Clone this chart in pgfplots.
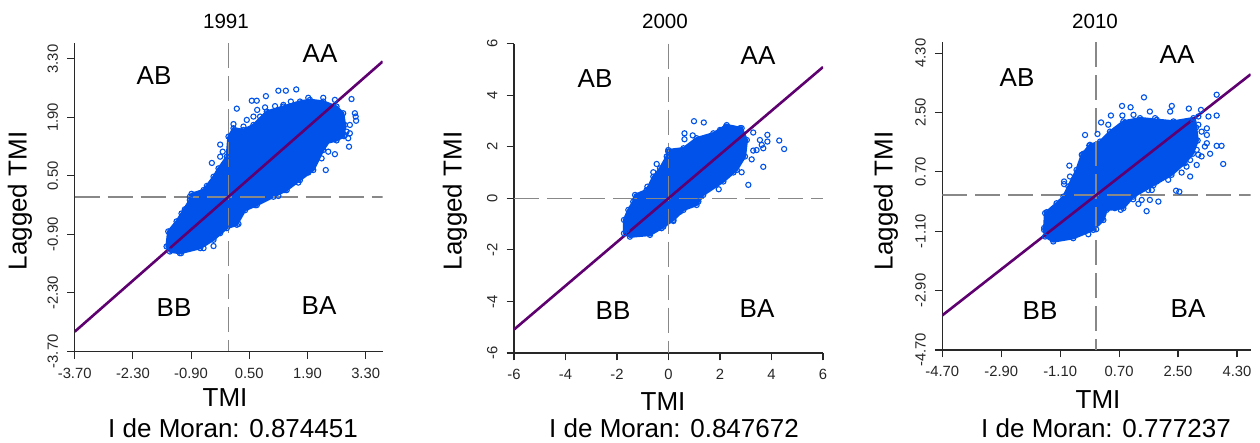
\documentclass[border=0pt]{standalone}
\usepackage{pgfplots}
\usepackage{fontspec}
\setmainfont{Liberation Sans}
\pgfplotsset{compat=1.18}
\definecolor{cloud}{RGB}{0,82,235}
\definecolor{reg}{RGB}{94,0,112}
\definecolor{guide}{RGB}{136,136,136}
\definecolor{axl}{RGB}{40,40,40}
\pgfplotsset{
  moran/.style={
    scale only axis,
    axis lines=left,
    axis line style={-,draw=axl,line width=0.6pt},
    clip=true,
    tick align=outside,
    major tick length=3.7pt,
    every tick/.style={draw=axl,line width=0.55pt},
    xtick pos=bottom, ytick pos=left,
    tick label style={font=\fontsize{7.4}{8}\selectfont,text=black!85},
    xticklabel style={yshift=-3.4pt,inner sep=1pt},
    yticklabel style={rotate=90,anchor=south,inner sep=1pt,yshift=3.4pt},
  },
  cl/.style={draw=cloud,line width=1.2pt,fill=cloud,forget plot},
  pts/.style={only marks,mark=o,mark size=1.3pt,mark options={draw=cloud,line width=0.55pt,fill=none},forget plot},
  gd/.style={draw=guide,line width=0.75pt,dash pattern=on 12.5pt off 4pt,forget plot},
  rg/.style={draw=reg,line width=1.3pt,forget plot},
}
\begin{document}
\begin{tikzpicture}
\path (0,0) rectangle (630pt,221.5pt);

% ---------- 1991
\begin{axis}[moran,at={(37.35pt,45.85pt)},anchor=south west,width=154pt,height=154pt,
  xmin=-3.7,xmax=3.71,ymin=-3.7,ymax=3.675,
  xtick={-3.7,-2.3,-0.9,0.5,1.9,3.3},ytick={-3.7,-2.3,-0.9,0.5,1.9,3.3},
  xticklabels={-3.70,-2.30,-0.90,0.50,1.90,3.30},yticklabels={-3.70,-2.30,-0.90,0.50,1.90,3.30}]
\addplot[cl] coordinates {(-1.49,-1.19)(-1.45,-0.83)(-1.25,-0.59)(-1.13,-0.40)(-0.93,-0.08)(-0.89,0.07)(-0.60,0.16)(-0.36,0.48)(-0.24,0.68)(-0.04,0.96)(0.00,1.44)(0.12,1.64)(0.36,1.60)(0.60,1.72)(0.92,2.04)(1.32,2.16)(1.72,2.28)(1.96,2.32)(2.28,2.28)(2.60,2.16)(2.76,2.00)(2.80,1.72)(2.78,1.45)(2.60,1.35)(2.40,1.30)(2.28,1.12)(2.04,0.64)(1.72,0.40)(1.40,0.16)(1.08,0.00)(0.68,-0.20)(0.40,-0.32)(0.20,-0.67)(-0.04,-0.75)(-0.36,-1.03)(-0.68,-1.23)(-1.17,-1.35)(-1.41,-1.31)} -- cycle;
\addplot[pts] coordinates {(-1.49,-1.19)(-1.45,-0.83)(-1.25,-0.59)(-1.13,-0.40)(-0.93,-0.08)(-0.89,0.07)(-0.60,0.16)(-0.36,0.48)(-0.24,0.68)(-0.04,0.96)(0.00,1.44)(0.12,1.64)(0.36,1.60)(0.60,1.72)(0.92,2.04)(1.32,2.16)(1.72,2.28)(1.96,2.32)(2.28,2.28)(2.60,2.16)(2.76,2.00)(2.80,1.72)(2.78,1.45)(2.60,1.35)(2.28,1.12)(2.04,0.64)(1.72,0.40)(1.40,0.16)(1.08,0.00)(0.68,-0.20)(0.40,-0.32)(0.20,-0.67)(-0.04,-0.75)(-0.36,-1.03)(-0.68,-1.23)(-1.17,-1.35)(-1.41,-1.31)
(-0.40,0.81)(-0.20,1.25)(-0.14,1.08)(-0.20,0.96)(0.20,2.11)(0.56,2.30)(0.68,2.30)(0.90,2.41)(1.20,2.54)(1.38,2.54)(1.63,2.57)(0.69,2.08)(0.88,2.14)(1.12,2.17)(1.32,2.20)(1.50,2.28)(1.92,2.37)(2.28,2.37)(2.56,2.32)(2.96,2.34)(3.04,2.00)(3.06,1.92)(3.07,1.82)(2.90,1.20)(2.88,1.40)(2.56,1.02)(2.34,0.64)(2.40,1.08)(2.24,0.92)(1.92,0.58)(1.68,0.34)(1.36,0.16)(1.20,0.02)(0.64,-0.20)(0.24,-0.65)(-0.36,-1.18)(-0.60,-1.23)(-0.20,-0.87)(-1.14,-1.35)(-1.05,-0.30)(-0.93,0.00)(-0.52,0.26)(0.36,1.68)(0.12,1.74)(0.44,1.84)(0.60,1.92)(0.76,1.92)(2.92,1.72)(2.84,1.56)(2.72,1.60)(2.80,1.48)(2.68,1.52)(2.92,1.52)};
\addplot[gd] coordinates {(0,3.675)(0,-3.7)};
\addplot[gd] coordinates {(-3.7,0)(3.71,0)};
\addplot[rg] coordinates {(-3.7,-3.23)(3.71,3.24)};
\end{axis}

% ---------- 2000
\begin{axis}[moran,at={(257pt,45pt)},anchor=south west,width=154.5pt,height=154.7pt,
  xmin=-6,xmax=6,ymin=-6,ymax=6,
  xtick={-6,-4,-2,0,2,4,6},ytick={-6,-4,-2,0,2,4,6},
  xticklabels={-6,-4,-2,0,2,4,6},yticklabels={-6,-4,-2,0,2,4,6}]
\addplot[cl] coordinates {(-1.73,-1.36)(-1.73,-0.84)(-1.56,-0.45)(-1.37,-0.13)(-1.30,0.13)(-0.85,0.32)(-0.59,0.84)(-0.33,1.16)(-0.07,1.62)(-0.01,1.87)(0.58,1.94)(1.09,2.33)(1.74,2.52)(2.26,2.84)(2.84,2.72)(3.04,2.26)(2.97,1.62)(2.65,1.10)(2.13,0.65)(1.35,0.13)(1.09,-0.26)(0.58,-0.45)(0.19,-0.84)(-0.27,-1.16)(-0.72,-1.42)(-1.50,-1.49)} -- cycle;
\addplot[pts] coordinates {(-1.73,-1.36)(-1.73,-0.84)(-1.56,-0.45)(-1.37,-0.13)(-1.30,0.13)(-0.85,0.32)(-0.59,0.84)(-0.33,1.16)(-0.07,1.62)(-0.01,1.87)(0.58,1.94)(1.09,2.33)(1.74,2.52)(2.26,2.84)(2.84,2.72)(3.04,2.26)(2.97,1.62)(2.65,1.10)(2.13,0.65)(1.35,0.13)(1.09,-0.26)(0.58,-0.45)(0.19,-0.84)(-0.27,-1.16)(-0.72,-1.42)(-1.50,-1.49)
(0.99,2.99)(1.37,2.94)(0.62,2.52)(0.62,2.29)(0.94,2.44)(2.00,2.65)(2.23,2.78)(2.78,2.72)(3.29,2.55)(3.84,2.46)(3.84,2.20)(3.55,2.26)(3.62,2.07)(3.68,1.94)(3.42,1.87)(3.29,1.85)(3.23,1.51)(3.68,1.22)(3.10,0.52)(2.84,1.01)(4.30,2.24)(4.49,1.91)(1.95,0.35)(2.52,1.00)(0.19,-0.88)(-0.46,1.33)(-0.59,1.01)(-0.27,0.97)(-0.82,0.45)(-0.01,1.81)(-1.28,-0.03)(-1.63,-1.23)(-0.72,-1.36)(1.16,-0.13)(0.45,-0.52)(-0.20,-1.10)};
\addplot[gd] coordinates {(0,6)(0,-6)};
\addplot[gd] coordinates {(-6,0)(6,0)};
\addplot[rg] coordinates {(-6,-5.09)(6,5.09)};
\end{axis}

% ---------- 2010
\begin{axis}[moran,at={(471.15pt,46.5pt)},anchor=south west,width=154.2pt,height=153.85pt,
  xmin=-4.7,xmax=4.72,ymin=-4.7,ymax=4.63,
  xtick={-4.7,-2.9,-1.1,0.7,2.5,4.3},ytick={-4.7,-2.9,-1.1,0.7,2.5,4.3},
  xticklabels={-4.70,-2.90,-1.10,0.70,2.50,4.30},yticklabels={-4.70,-2.90,-1.10,0.70,2.50,4.30}]
\addplot[cl] coordinates {(-1.59,-1.06)(-1.56,-0.55)(-1.21,-0.25)(-1.00,-0.05)(-0.85,0.26)(-0.60,0.76)(-0.44,1.22)(-0.19,1.52)(0.12,1.62)(0.42,1.92)(0.83,2.23)(1.34,2.33)(1.85,2.28)(2.36,2.23)(2.97,2.33)(3.05,2.05)(3.10,1.65)(2.95,1.25)(2.70,0.96)(2.30,0.61)(1.75,0.30)(1.14,-0.05)(0.83,-0.40)(0.32,-0.45)(0.22,-0.76)(-0.09,-1.06)(-0.70,-1.31)(-1.31,-1.41)(-1.56,-1.26)} -- cycle;
\addplot[pts] coordinates {(-1.59,-1.06)(-1.56,-0.55)(-1.21,-0.25)(-1.00,-0.05)(-0.85,0.26)(-0.60,0.76)(-0.44,1.22)(-0.19,1.52)(0.12,1.62)(0.42,1.92)(0.83,2.23)(1.34,2.33)(1.85,2.28)(2.36,2.23)(2.97,2.33)(3.05,2.05)(3.10,1.65)(2.95,1.25)(2.70,0.96)(2.30,0.61)(1.75,0.30)(1.14,-0.05)(0.83,-0.40)(0.32,-0.45)(0.22,-0.76)(-0.09,-1.06)(-0.70,-1.31)(-1.31,-1.41)(-1.56,-1.26)
(1.46,2.96)(3.68,3.04)(0.79,2.70)(1.05,2.66)(1.64,2.53)(2.31,2.70)(2.26,2.53)(2.83,2.62)(3.20,2.58)(3.68,2.41)(3.43,2.38)(3.83,1.49)(3.68,1.49)(3.88,0.94)(3.48,1.25)(3.07,0.91)(2.87,0.56)(2.44,0.13)(2.54,0.10)(1.90,-0.20)(1.54,-0.49)(1.29,-0.27)(1.64,-0.15)(0.75,-0.45)(-0.34,1.82)(0.04,1.85)(0.15,2.20)(0.37,2.13)(0.45,2.41)(0.80,2.41)(1.14,2.43)(1.80,2.33)(-0.21,1.50)(-0.82,0.89)(-0.98,0.41)(-0.98,0.33)(-0.80,0.56)(-0.39,1.25)(-1.51,-0.52)(-1.59,-1.00)(-0.24,-1.19)(0.00,-1.04)(3.38,2.02)(3.38,1.57)(3.12,1.22)
(2.97,1.87)(3.12,2.13)(3.22,1.92)(3.38,1.82)(3.32,1.47)(3.07,1.37)(3.22,1.17)(2.87,1.06)(2.76,0.86)(2.61,0.68)(2.20,0.46)(1.85,0.41)(1.44,0.20)(1.39,-0.15)(1.13,-0.13)(1.59,0.15)(1.70,0.15)(0.57,-0.40)(0.32,-0.40)(2.97,2.23)(3.12,2.38)};
\addplot[gd] coordinates {(0,4.63)(0,-4.7)};
\addplot[gd] coordinates {(-4.7,0)(4.72,0)};
\addplot[rg] coordinates {(-4.7,-3.65)(4.72,3.66)};
\end{axis}

% ---------- texts, positions in image pixels
\begin{scope}[shift={(0,221.5pt)},x=0.5pt,y=-0.5pt,inner sep=0pt]
\def\titlefont{\fontsize{10.3}{12}\selectfont}
\def\labfont{\fontsize{13}{15}\selectfont}
\foreach \tx/\t/\abx/\aby/\aax/\aay/\bbx/\bby/\bax/\bay/\tmx/\tmy/\mx/\mv/\lx in {
  226/1991/154/76/320/54/174/308/319/306/225/398/233/0.874451/20,
  665/2000/595/79/758/56/613/311/757/309/663/402/674/0.847672/455,
  1095/2010/1017/78/1177/55/1040/311/1188/309/1098/400/1106/0.777237/886}{
  \node[font=\titlefont] at (\tx,21) {\t};
  \node[font=\labfont] at (\abx,\aby) {AB};
  \node[font=\labfont] at (\aax,\aay) {AA};
  \node[font=\labfont] at (\bbx,\bby) {BB};
  \node[font=\labfont] at (\bax,\bay) {BA};
  \node[font=\labfont] at (\tmx,\tmy) {TMI};
  \node[font=\labfont] at (\mx,428) {I de Moran: \mv};
  \node[font=\labfont,rotate=90] at (\lx,201) {Lagged TMI};
}
\end{scope}
\end{tikzpicture}
\end{document}
